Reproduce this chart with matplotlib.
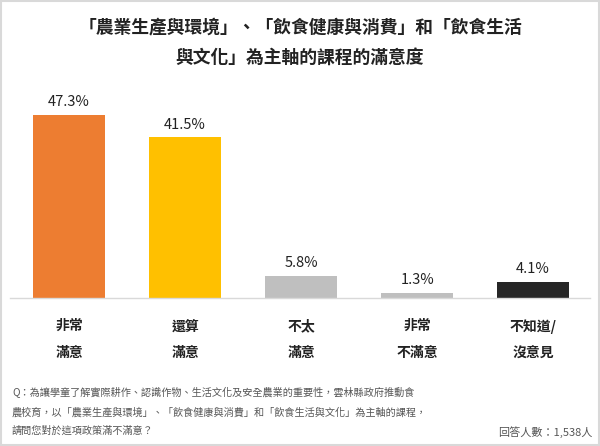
import matplotlib
matplotlib.use("Agg")
import matplotlib.pyplot as plt
from matplotlib.patches import Rectangle

plt.rcParams['font.family'] = ['Noto Sans CJK TC', 'DejaVu Sans']

categories = ["非常\n滿意", "還算\n滿意", "不太\n滿意", "非常\n不滿意", "不知道/\n沒意見"]
values = [47.3, 41.5, 5.8, 1.3, 4.1]
colors = ["#ED7D31", "#FFC000", "#BFBFBF", "#BFBFBF", "#262626"]
title_lines = ["「農業生產與環境」、「飲食健康與消費」和「飲食生活", "與文化」為主軸的課程的滿意度"]
question = ("Q：為讓學童了解實際耕作、認識作物、生活文化及安全農業的重要性，雲林縣政府推動食\n"
            "農校育，以「農業生產與環境」、「飲食健康與消費」和「飲食生活與文化」為主軸的課程，\n"
            "請問您對於這項政策滿不滿意？")
footer = "回答人數：1,538人"

fig = plt.figure(figsize=(6, 4.46), dpi=100)
fig.patch.set_facecolor("white")
fig.add_artist(Rectangle((0.002, 0.002), 0.996, 0.996, transform=fig.transFigure,
                         fill=False, edgecolor="#D9D9D9", linewidth=1.5))

ax = fig.add_axes([10/600, (446-298)/446, 580/600, 193.5/446])
x = list(range(len(categories)))
ax.bar(x, values, width=0.62, color=colors)
for xi, v in zip(x, values):
    ax.text(xi, v + 1.5, f"{v}%", ha="center", va="bottom", fontsize=10.5, color="#222222")
ax.set_xlim(-0.51, 4.49)
ax.set_ylim(0, 50)
ax.set_yticks([])
ax.set_xticks([])
for s in ["top", "right", "left"]:
    ax.spines[s].set_visible(False)
ax.spines["bottom"].set_color("#D9D9D9")
ax.spines["bottom"].set_linewidth(1)

for xi, c in zip(x, categories):
    l1, l2 = c.split("\n")
    ax.text(xi, -7.3, l1, ha="center", va="center", fontsize=10, fontweight="bold", color="#222222")
    ax.text(xi, -14.3, l2, ha="center", va="center", fontsize=10, fontweight="bold", color="#222222")

for i, ln in enumerate(title_lines):
    fig.text(0.5, 1 - (28 + i*30)/446, ln,
             ha="center", va="center", fontsize=12.8, fontweight="bold", color="#222222")

qlines = question.split("\n")
for i, ln in enumerate(qlines):
    fig.text(12/600, 1 - (393 + i*19)/446, ln, ha="left", va="center", fontsize=7.3, color="#555555")

fig.text(592/600, 1 - 432/446, footer, ha="right", va="center", fontsize=8, color="#555555")

fig.savefig("out.png", dpi=100)
